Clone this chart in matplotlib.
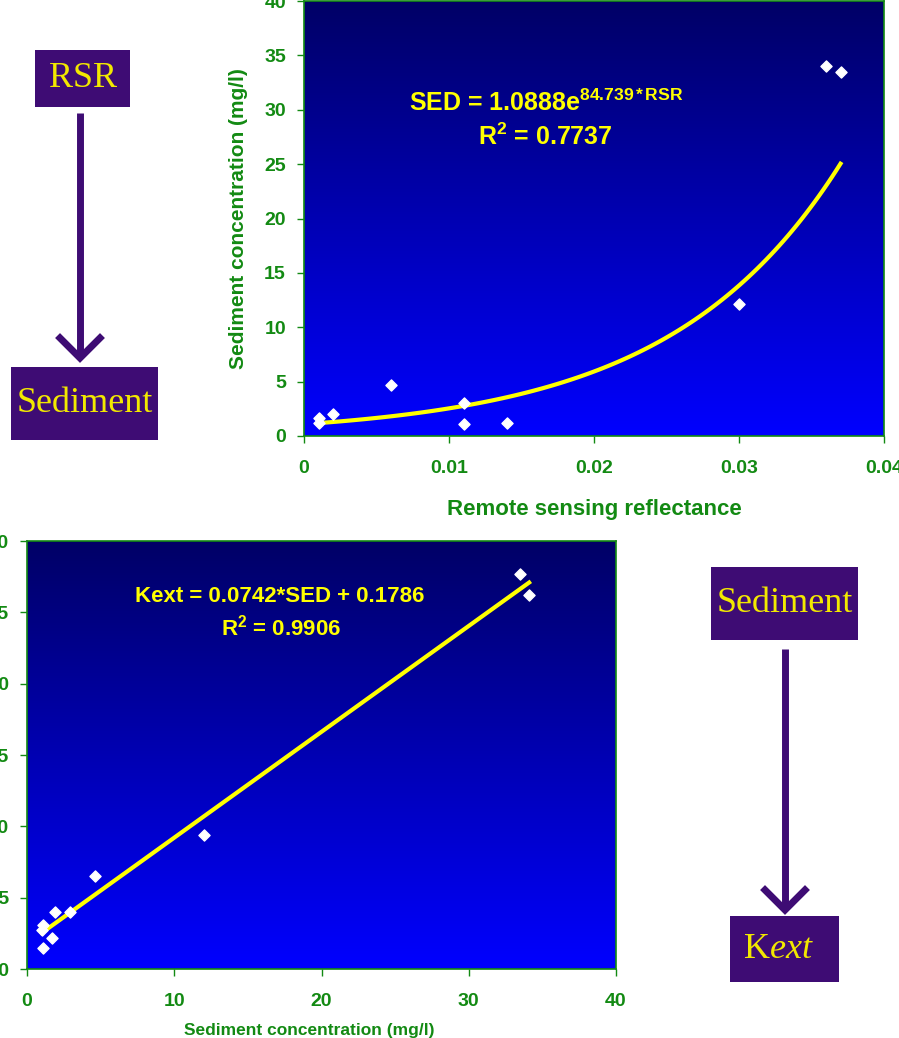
import numpy as np
import matplotlib
matplotlib.use('Agg')
import matplotlib.pyplot as plt
from matplotlib.colors import LinearSegmentedColormap
from matplotlib.patches import Rectangle
from matplotlib.lines import Line2D

plt.rcParams['font.family'] = ['Liberation Sans', 'DejaVu Sans']
plt.rcParams['mathtext.fontset'] = 'custom'
plt.rcParams['mathtext.bf'] = 'Liberation Sans:bold'
plt.rcParams['mathtext.rm'] = 'Liberation Sans:bold'
plt.rcParams['mathtext.it'] = 'Liberation Serif:italic'
plt.rcParams['mathtext.default'] = 'bf'

# data
rsr = [0.001, 0.001, 0.002, 0.006, 0.011, 0.011, 0.014, 0.030, 0.036, 0.037]
sed_top = [1.7, 1.2, 2.0, 4.7, 3.0, 1.1, 1.2, 12.1, 34.0, 33.5]
sed = [1.1, 1.0, 1.1, 1.7, 1.9, 2.9, 4.6, 12.0, 33.5, 34.1]
kext = [0.31, 0.27, 0.15, 0.22, 0.40, 0.40, 0.65, 0.94, 2.77, 2.62]

# trendline coefficients printed on the chart
exp_a, exp_b = 1.0888, 84.739
lin_m, lin_c = 0.0742, 0.1786

top_xticks = [0, 0.01, 0.02, 0.03, 0.04]
top_yticks = [0, 5, 10, 15, 20, 25, 30, 35, 40]
bot_xticks = [0, 10, 20, 30, 40]
bot_yticks = [0.0, 0.5, 1.0, 1.5, 2.0, 2.5, 3.0]

W, H = 899, 1038
GREEN = '#138A13'
PURPLE = '#3E0C74'
YEL = '#FFFF00'
BOXYEL = '#F2E800'

def fx(px):
    return px / W

def fy(py):
    return 1 - py / H

fig = plt.figure(figsize=(W / 100, H / 100), dpi=100)
bg = LinearSegmentedColormap.from_list('bg', ['#0000FF', '#000066'])
grad = np.linspace(0, 1, 256).reshape(-1, 1)


def style_axes(ax):
    ax.imshow(grad, extent=[0, 1, 0, 1], transform=ax.transAxes, aspect='auto',
              cmap=bg, origin='lower', zorder=0)
    for s in ax.spines.values():
        s.set_color(GREEN)
        s.set_linewidth(1.2)
    ax.tick_params(colors=GREEN, length=5, width=1, labelsize=14, pad=8)


# top chart: RSR -> sediment
ax1 = fig.add_axes([fx(304), fy(436), (884 - 304) / W, (436 - 1) / H])
style_axes(ax1)
rr = np.linspace(min(rsr), max(rsr), 120)
ax1.plot(rr, exp_a * np.exp(exp_b * rr), color=YEL, lw=3, zorder=2)
ax1.scatter(rsr, sed_top, marker='D', s=32, color='white', zorder=3)
ax1.set_xlim(0, 0.04)
ax1.set_ylim(0, 40)
ax1.set_xticks(top_xticks)
ax1.set_xticklabels(['0', '0.01', '0.02', '0.03', '0.04'], fontweight='bold')
ax1.set_yticks(top_yticks)
ax1.set_yticklabels([str(v) for v in top_yticks], fontweight='bold')
ax1.tick_params(axis='x', pad=12)
ax1.set_xlabel('Remote sensing reflectance', color=GREEN, fontsize=16,
               fontweight='bold', labelpad=16)
ax1.set_ylabel('Sediment concentration (mg/l)', color=GREEN, fontsize=15,
               fontweight='bold', labelpad=12)
fig.text(fx(546), fy(103), r'SED = 1.0888e$^{84.739*RSR}$', color=YEL, fontsize=18,
         fontweight='bold', ha='center', va='center')
fig.text(fx(545), fy(137), r'R$^{2}$ = 0.7737', color=YEL, fontsize=18,
         fontweight='bold', ha='center', va='center')

# bottom chart: sediment -> Kext
ax2 = fig.add_axes([fx(27), fy(969), (616 - 27) / W, (969 - 541) / H])
style_axes(ax2)
ss = np.array([min(sed), max(sed)])
ax2.plot(ss, lin_m * ss + lin_c, color=YEL, lw=3, zorder=2)
ax2.scatter(sed, kext, marker='D', s=32, color='white', zorder=3)
ax2.set_xlim(0, 40)
ax2.set_ylim(0, 3.0)
ax2.set_xticks(bot_xticks)
ax2.set_xticklabels([str(v) for v in bot_xticks], fontweight='bold')
ax2.set_yticks(bot_yticks)
ax2.set_yticklabels(['%.1f' % v for v in bot_yticks], fontweight='bold')
ax2.tick_params(axis='x', pad=12)
ax2.set_xlabel('Sediment concentration (mg/l)', color=GREEN, fontsize=12.5,
               fontweight='bold')
ax2.xaxis.set_label_coords((309 - 27) / (616 - 27), -(1031 - 969) / (969 - 541))
ax2.xaxis.label.set_va('center')
fig.text(fx(280), fy(597), 'Kext = 0.0742*SED + 0.1786', color=YEL, fontsize=16,
         fontweight='bold', ha='center', va='center')
fig.text(fx(281), fy(628), r'R$^{2}$ = 0.9906', color=YEL, fontsize=16,
         fontweight='bold', ha='center', va='center')


# flow boxes and arrows
def box(x0, y0, x1, y1, label, tx=None):
    fig.add_artist(Rectangle((fx(x0), fy(y1)), (x1 - x0) / W, (y1 - y0) / H,
                             transform=fig.transFigure, color=PURPLE, lw=0))
    if tx is None:
        tx = (x0 + x1) / 2
    fig.text(fx(tx), fy((y0 + y1) / 2), label, color=BOXYEL,
             family='Liberation Serif', fontsize=26, ha='center', va='center')


def arrow(x, y0, y1):
    fig.add_artist(Line2D([fx(x), fx(x)], [fy(y0), fy(y1 - 4)], color=PURPLE, lw=5,
                          transform=fig.transFigure, solid_capstyle='butt'))
    fig.add_artist(Line2D([fx(x - 20), fx(x), fx(x + 20)], [fy(y1 - 20), fy(y1), fy(y1 - 20)],
                          color=PURPLE, lw=5, transform=fig.transFigure,
                          solid_joinstyle='miter'))


box(35, 50, 130, 107, 'RSR')
arrow(80, 113, 358)
box(11, 367, 158, 440, 'Sediment')

box(711, 567, 858, 640, 'Sediment')
arrow(785, 649, 910)
box(730, 916, 839, 982, r'K$\mathit{ext}$', tx=778)

fig.savefig('out.png', dpi=100)
